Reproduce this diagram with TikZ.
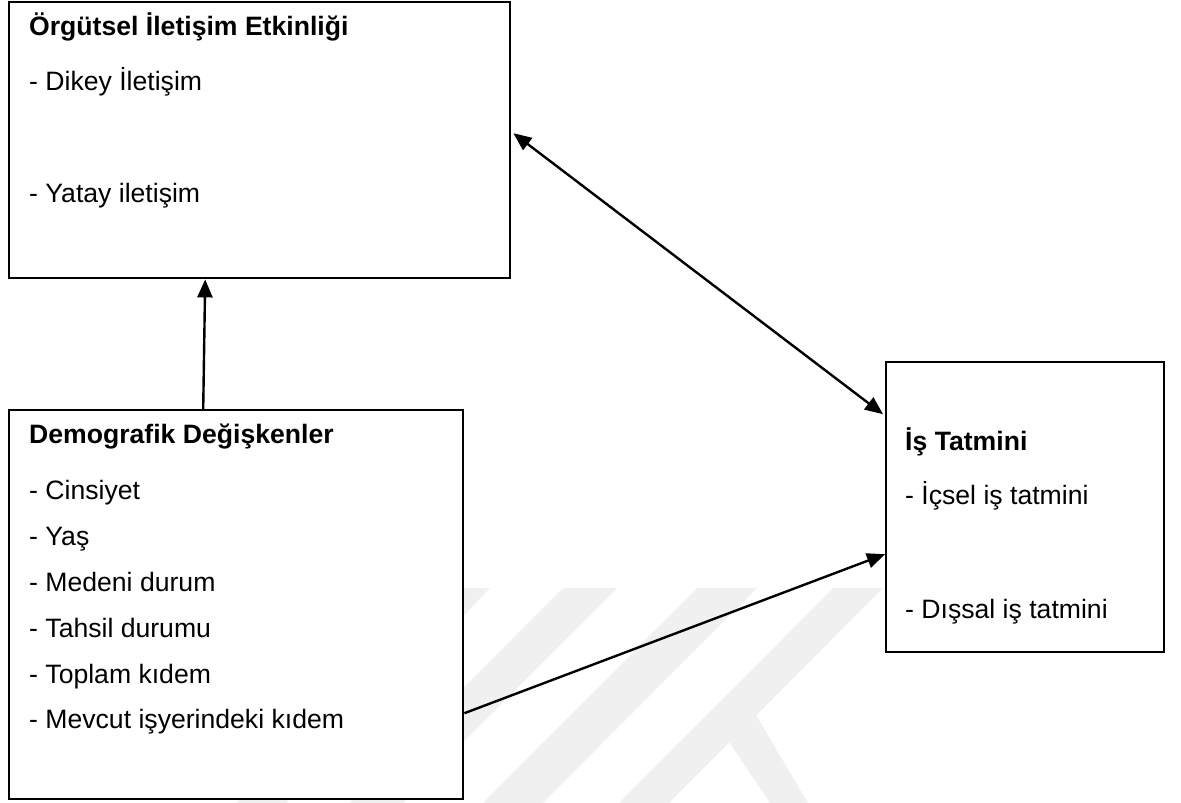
\documentclass[tikz,border=0pt]{standalone}
\usepackage{fontspec}
\setmainfont{Liberation Sans}
\usetikzlibrary{arrows.meta}
\begin{document}
\begin{tikzpicture}[x=1pt,y=-1pt,
  boxnode/.style={draw=black,fill=white,line width=2.4pt,rectangle,inner sep=0pt,anchor=north west},
  txt/.style={anchor=base west,inner sep=0pt,font=\fontsize{26.6}{32}\selectfont},
  ttl/.style={txt,font=\fontsize{26.6}{32}\selectfont\bfseries},
  arr/.style={line width=2.4pt,-{Triangle[length=18pt,width=15pt]}},
  darr/.style={line width=2.4pt,{Triangle[length=18pt,width=15pt]}-{Triangle[length=18pt,width=15pt]}},
  wm/.style={fill=black!6,draw=none}]
\useasboundingbox (0,0) rectangle (1181,803);
% faint watermark
\fill[wm] (440,588) -- (490,588) -- (286,803) -- (236,803) -- cycle;
\fill[wm] (563,588) -- (617,588) -- (403,803) -- (349,803) -- cycle;
\fill[wm] (697,588) -- (757,588) -- (543,803) -- (483,803) -- cycle;
\fill[wm] (833,588) -- (883,588) -- (669,803) -- (619,803) -- cycle;
\fill[wm] (729,742) -- (756,715) -- (808,803) -- (770,803) -- cycle;
% boxes
\node[boxnode,minimum width=501pt,minimum height=276pt] (A) at (8,1) {};
\node[boxnode,minimum width=454pt,minimum height=389pt] (D) at (8,409) {};
\node[boxnode,minimum width=278pt,minimum height=290pt] (I) at (885,361) {};
% texts box A
\node[ttl] (a0) at (29,35) {Örgütsel İletişim Etkinliği};
\node[txt] (a1) at (29,90) {- Dikey İletişim};
\node[txt] (a2) at (29,202) {- Yatay iletişim};
% texts box D
\node[ttl] (d0) at (29,443) {Demografik Değişkenler};
\node[txt] (d1) at (29,499) {- Cinsiyet};
\node[txt] (d2) at (29,545) {- Yaş};
\node[txt] (d3) at (29,591) {- Medeni durum};
\node[txt] (d4) at (29,637) {- Tahsil durumu};
\node[txt] (d5) at (29,683) {- Toplam kıdem};
\node[txt] (d6) at (29,728) {- Mevcut işyerindeki kıdem};
% texts box I
\node[ttl] (i0) at (905,450) {İş Tatmini};
\node[txt] (i1) at (905,504) {- İçsel iş tatmini};
\node[txt] (i2) at (905,618) {- Dışsal iş tatmini};
% connectors
\draw[arr] ([xshift=-33pt]D.north) -- ([xshift=-54.5pt]A.south);
\draw[darr] ([xshift=2pt,yshift=7pt]A.east) -- ([xshift=-2pt,yshift=93pt]I.west);
\draw[arr] ([yshift=-108.5pt]D.east) -- ([yshift=-47pt]I.west);
\end{tikzpicture}
\end{document}
